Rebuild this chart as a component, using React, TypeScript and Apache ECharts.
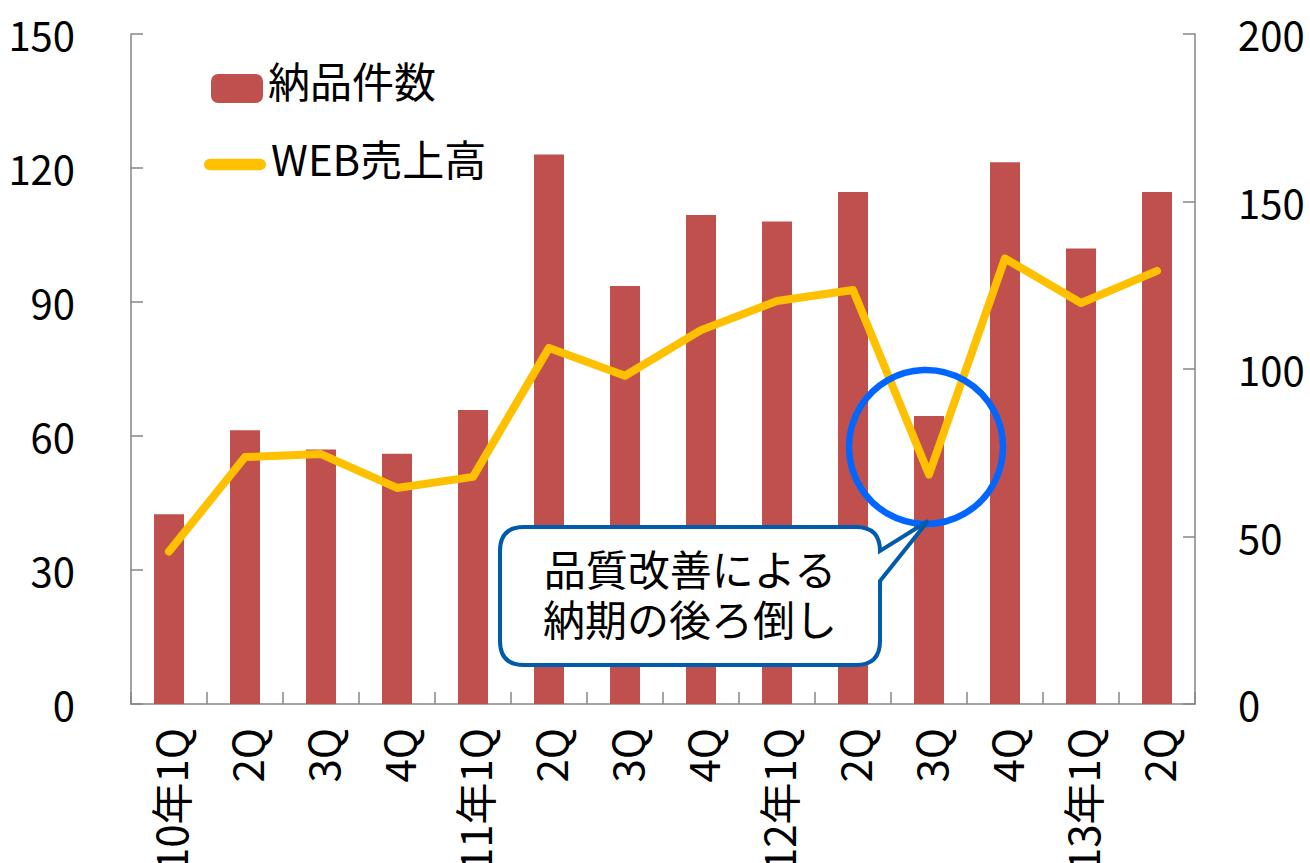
import React, { useEffect, useRef } from "react";
import * as echarts from "echarts";

const categories = ["10年1Q", "2Q", "3Q", "4Q", "11年1Q", "2Q", "3Q", "4Q", "12年1Q", "2Q", "3Q", "4Q", "13年1Q", "2Q"];
const deliveries = [42.5, 61.3, 57, 56, 65.8, 123, 93.6, 109.5, 108, 114.6, 64.5, 121.3, 102, 114.6];
const webSales = [45.5, 73.7, 74.6, 64.5, 67.8, 106.3, 98, 111.6, 120.3, 123.6, 68.5, 133, 119.7, 129.3];
const leftTicks = { min: 0, max: 150, interval: 30 };
const rightTicks = { min: 0, max: 200, interval: 50 };
const calloutLines = ["品質改善による", "納期の後ろ倒し"];

const FONT = "'Noto Sans CJK JP', 'Noto Sans', sans-serif";

const calloutPath =
  "M524 527 L856 527 Q880 527 880 551 L928 521 L880 581 L880 641 Q880 665 856 665 L524 665 Q500 665 500 641 L500 551 Q500 527 524 527 Z";

let registered = false;
function ensureShapes() {
  if (registered) return;
  echarts.graphic.registerShape("callout", echarts.graphic.extendPath(calloutPath, {}) as any);
  registered = true;
}

export default function App() {
  const ref = useRef<HTMLDivElement>(null);
  useEffect(() => {
    document.body.style.margin = "0";
    ensureShapes();
    const chart = echarts.init(ref.current!, undefined, { renderer: "svg" });
    const axisLine = { show: true, lineStyle: { color: "#868686", width: 1.5 } };
    const axisTick = { show: true, inside: true, length: 12, lineStyle: { color: "#868686", width: 1.5 } };
    chart.setOption({
      animation: false,
      textStyle: { fontFamily: FONT },
      grid: { left: 131, right: 115, top: 34, bottom: 159, containLabel: false, outerBoundsMode: "none" },
      legend: [
        {
          data: ["納品件数"],
          left: 211,
          top: 58,
          padding: 0,
          itemWidth: 52,
          itemHeight: 29,
          formatter: "{a|{name}}",
          textStyle: {
            fontFamily: FONT,
            rich: { a: { fontSize: 42, color: "#000", fontFamily: FONT, padding: [0, 0, 19, 0] } },
          },
        },
        {
          data: [
            {
              name: "WEB売上高",
              icon: "path://M6,0 L58,0 A6,6 0 0 1 58,12 L6,12 A6,6 0 0 1 6,0 Z",
            },
          ],
          left: 204,
          top: 136,
          padding: 0,
          itemWidth: 62,
          itemHeight: 12,
          formatter: "{a|{name}}",
          textStyle: {
            fontFamily: FONT,
            rich: { a: { fontSize: 42, color: "#000", fontFamily: FONT, padding: [0, 0, 15, 0] } },
          },
        },
      ],
      xAxis: {
        type: "category",
        data: categories,
        boundaryGap: true,
        axisLine,
        axisTick: { ...axisTick, alignWithLabel: false, interval: 0 },
        axisLabel: { interval: 0, rotate: 90, fontSize: 42, color: "#000", margin: 24, fontFamily: FONT },
        splitLine: { show: false },
      },
      yAxis: [
        {
          type: "value",
          ...leftTicks,
          position: "left",
          axisLine,
          axisTick,
          splitLine: { show: false },
          axisLabel: { fontSize: 40, color: "#000", margin: 56, fontFamily: FONT },
        },
        {
          type: "value",
          ...rightTicks,
          position: "right",
          axisLine,
          axisTick,
          splitLine: { show: false },
          axisLabel: { fontSize: 40, color: "#000", margin: 43, fontFamily: FONT },
        },
      ],
      series: [
        {
          name: "納品件数",
          type: "bar",
          data: deliveries,
          barWidth: 30,
          yAxisIndex: 0,
          itemStyle: { color: "#C0504D" },
          z: 2,
        },
        {
          name: "WEB売上高",
          type: "line",
          data: webSales,
          yAxisIndex: 1,
          showSymbol: false,
          symbol: "none",
          itemStyle: { color: "#FFC000" },
          lineStyle: { color: "#FFC000", width: 8, cap: "round", join: "round" },
          z: 3,
        },
      ],
      graphic: [
        {
          type: "circle",
          shape: { cx: 926, cy: 447, r: 77 },
          style: { fill: "none", stroke: "#0066FF", lineWidth: 6.5 },
          z: 100,
        },
        {
          type: "callout",
          x: 0,
          y: 0,
          style: { fill: "#fff", stroke: "#005BAC", lineWidth: 4 },
          z: 101,
        },
        {
          type: "text",
          x: 690,
          y: 567,
          style: {
            text: calloutLines[0],
            fontSize: 42,
            lineHeight: 44,
            fontFamily: FONT,
            fill: "#000",
            align: "center",
            verticalAlign: "middle",
          },
          z: 102,
        },
        {
          type: "text",
          x: 690,
          y: 617,
          style: {
            text: calloutLines[1],
            fontSize: 42,
            lineHeight: 44,
            fontFamily: FONT,
            fill: "#000",
            align: "center",
            verticalAlign: "middle",
          },
          z: 102,
        },
      ],
    });
    return () => chart.dispose();
  }, []);
  return <div ref={ref} style={{ width: 1310, height: 863 }} />;
}
